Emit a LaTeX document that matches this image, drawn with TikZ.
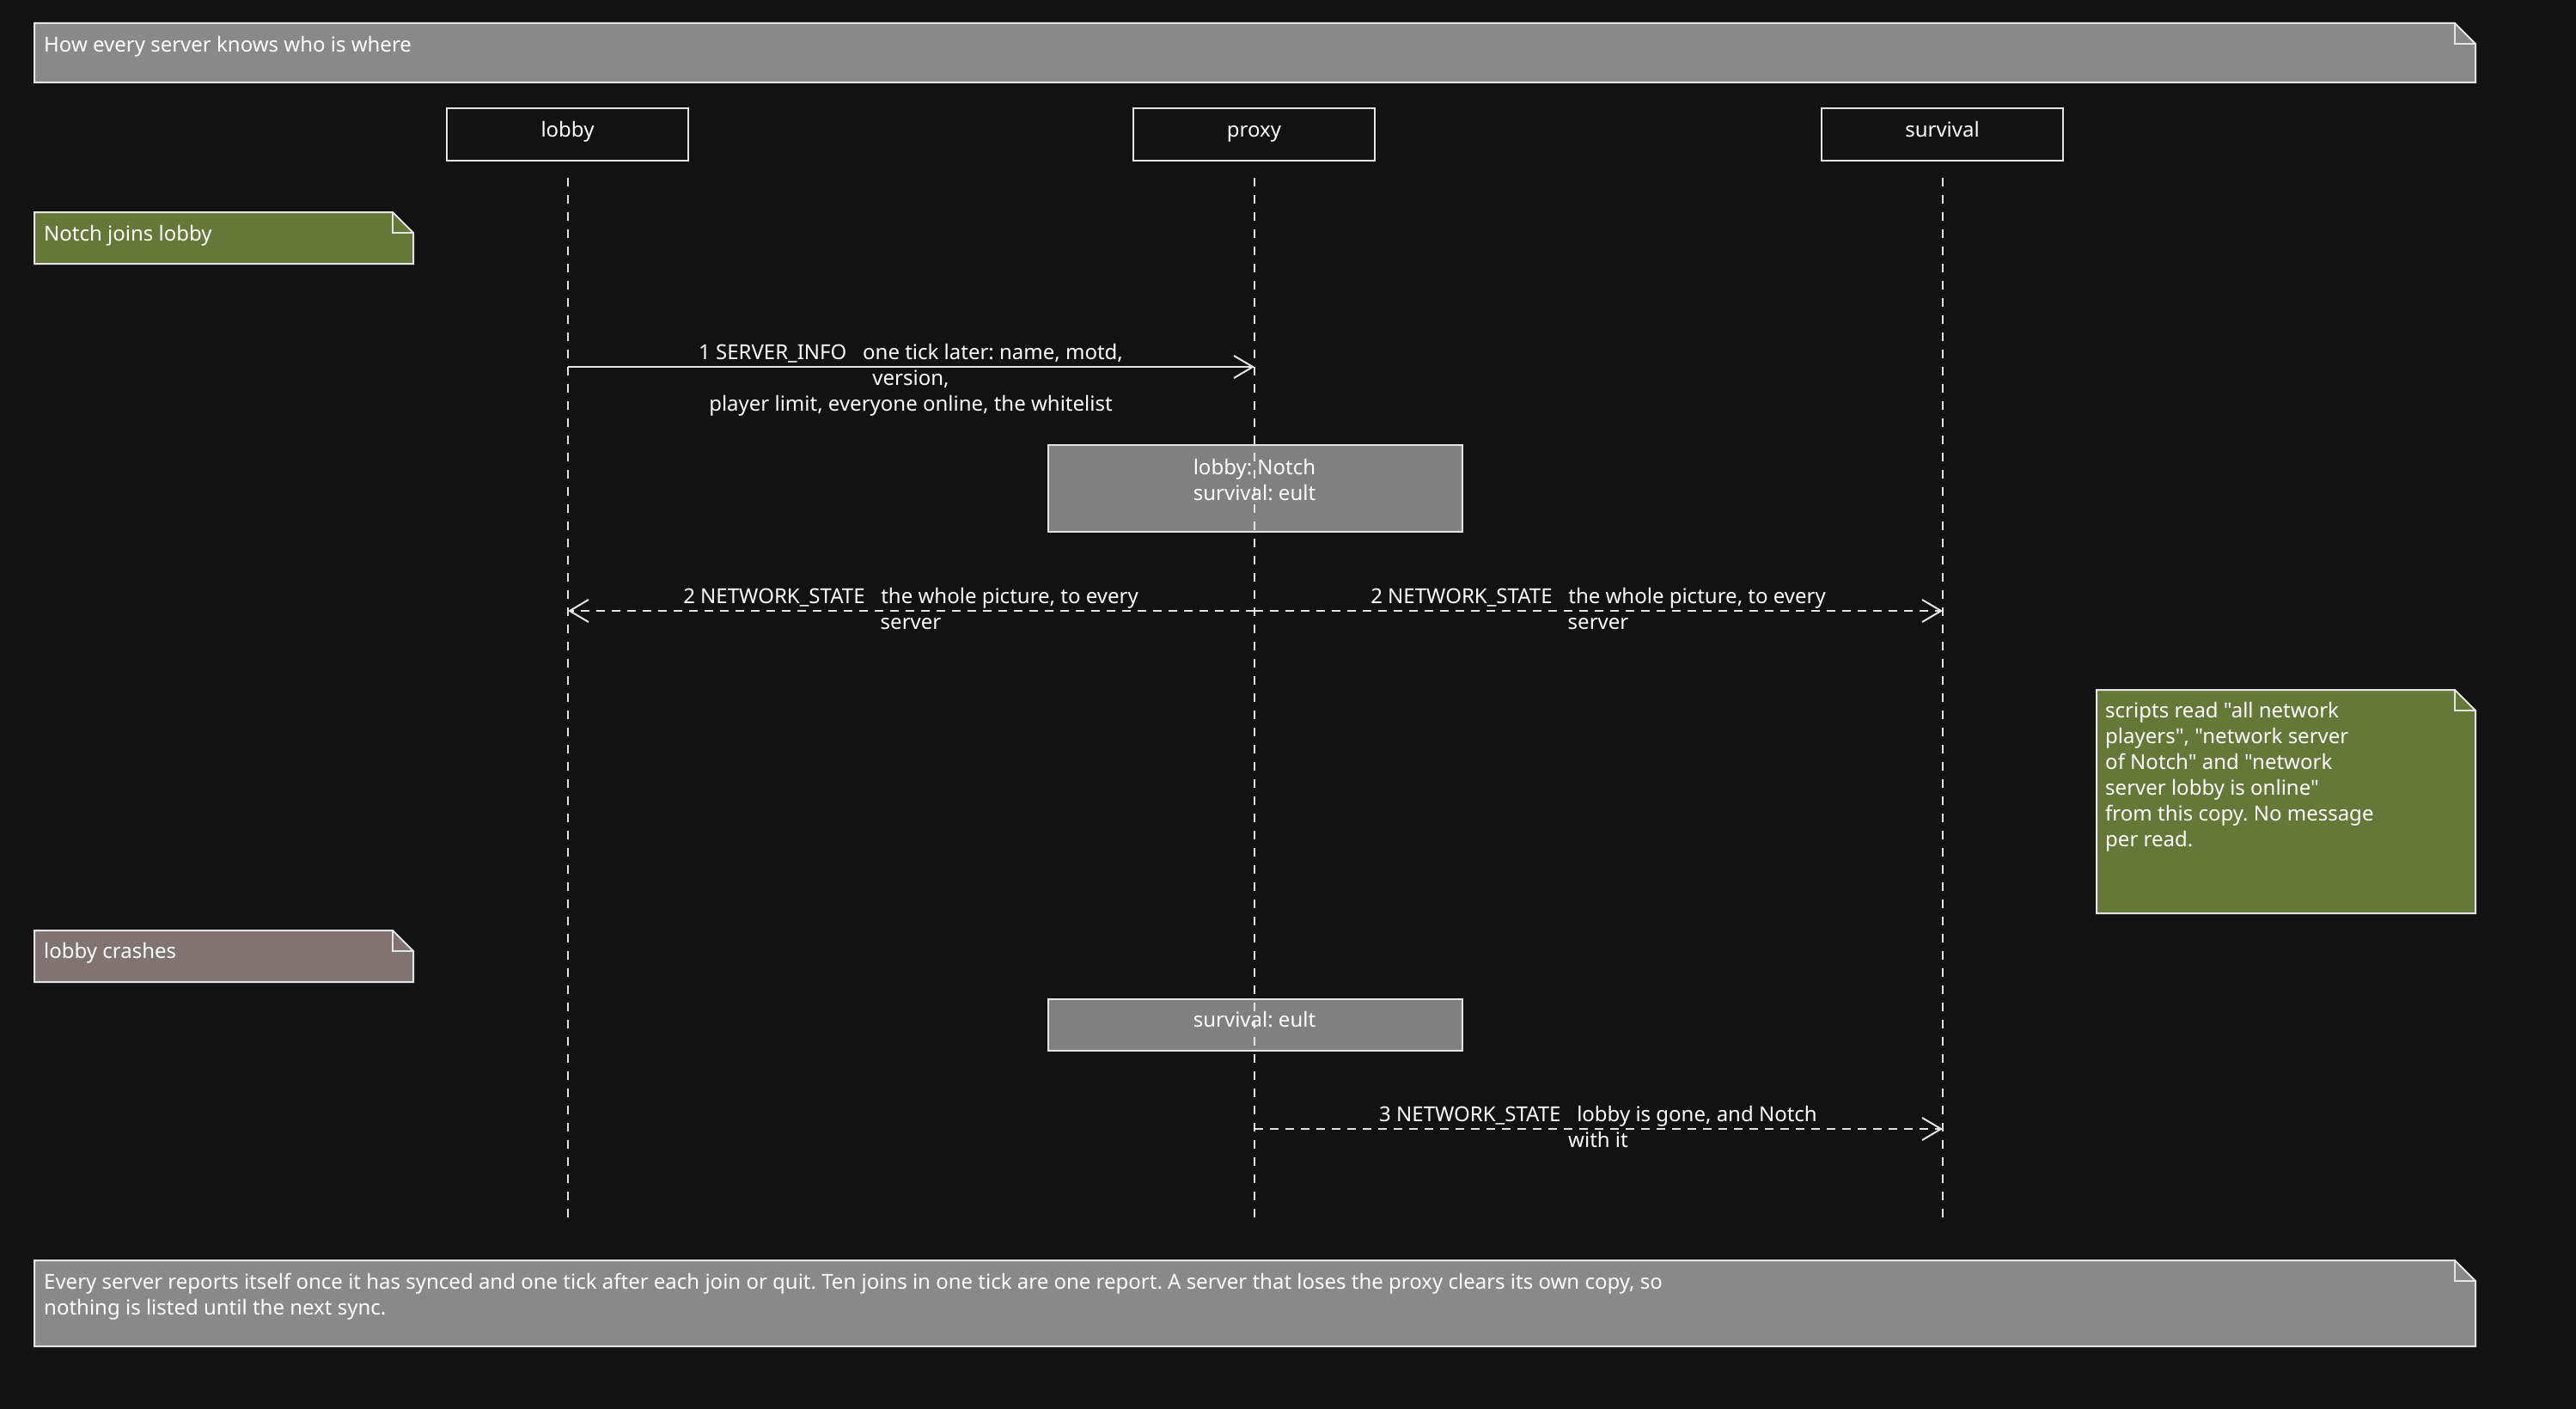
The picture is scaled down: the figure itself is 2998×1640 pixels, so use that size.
\documentclass[tikz,border=0pt]{standalone}
\usepackage{fontspec}
\setmainfont{Noto Sans}
\newfontfamily\nsans{Noto Sans}
\usetikzlibrary{arrows.meta}
\definecolor{bg}{HTML}{121212}
\definecolor{ttl}{HTML}{898989}
\definecolor{stt}{HTML}{808080}
\definecolor{grn}{HTML}{647838}
\definecolor{rse}{HTML}{827373}
\definecolor{edge}{HTML}{E4E4E4}
\newcommand\foldnote[5]{%
  \draw[notebg, fill=#5] (#1,#2) -- ({#3-24},#2) -- (#3,{#2+24}) -- (#3,#4) -- (#1,#4) -- cycle;
  \draw[notebg] ({#3-24},#2) -- ({#3-24},{#2+24}) -- (#3,{#2+24});}
\frenchspacing
\begin{document}
\begin{tikzpicture}[x=1pt,y=-1pt,
  txt/.style={inner sep=0pt, text=white, font=\nsans\fontsize{24}{30}\selectfont},
  ptbox/.style={draw=edge, line width=2pt, fill=bg, minimum width=281pt, minimum height=61pt,
    inner sep=0pt, text=white, font=\nsans\fontsize{24}{30}\selectfont, text height=18pt, text depth=11pt},
  statebox/.style={draw=edge, line width=2pt, fill=stt, inner sep=0pt, minimum width=482pt},
  lifeline/.style={draw=edge, line width=2pt, dash pattern=on 10pt off 10pt},
  msg/.style={draw=edge, line width=2pt, -{Straight Barb[length=22pt,width=26pt,line width=2pt]}},
  rmsg/.style={msg, dash pattern=on 10pt off 8pt},
  notebg/.style={draw=edge, line width=2pt, line join=miter}]
\useasboundingbox (0,0) rectangle (2998,1640);
\fill[bg] (0,0) rectangle (2998,1640);

% title
\foldnote{40}{27}{2881}{96}{ttl}
\node[txt, anchor=north west] (title) at (51,39) {\strut How every server knows who is where};

% participants
\node[ptbox] (lobbyP) at (660.5,156.5) {lobby};
\node[ptbox] (proxyP) at (1459.5,156.5) {proxy};
\node[ptbox] (survivalP) at (2260.5,156.5) {survival};

% notes
\foldnote{40}{247}{481}{307}{grn}
\node[txt, anchor=north west] (n1) at (51,259) {\strut Notch joins lobby};

\foldnote{2440}{803}{2881}{1063}{grn}
\node[txt, anchor=north west, align=left] (n2) at (2450,814) {\strut scripts read "all network\\\strut players", "network server\\\strut of Notch" and "network\\\strut server lobby is online"\\\strut from this copy. No message\\\strut per read.};

\foldnote{40}{1083}{481}{1143}{rse}
\node[txt, anchor=north west] (n3) at (51,1094) {\strut lobby crashes};

\foldnote{40}{1467}{2881}{1567}{ttl}
\node[txt, anchor=north west, align=left] (n4) at (51,1479) {\strut Every server reports itself once it has synced and one tick after each join or quit. Ten joins in one tick are one report. A server that loses the proxy clears its own copy, so\\\strut nothing is listed until the next sync.};

% state boxes
\node[statebox, minimum height=101pt] (st1) at (1461,568.5) {};
\node[statebox, minimum height=60pt] (st2) at (1461,1193) {};

% lifelines
\coordinate (lobbyTop) at (661,207);   \coordinate (lobbyBot) at (661,1419);
\coordinate (proxyTop) at (1460,207);  \coordinate (proxyBot) at (1460,1419);
\coordinate (survTop) at (2261,207);   \coordinate (survBot) at (2261,1419);
\draw[lifeline] (lobbyTop) -- (lobbyBot);
\draw[lifeline] (proxyTop) -- (proxyBot);
\draw[lifeline] (survTop) -- (survBot);

% state texts
\node[txt, anchor=north, align=center] (st1t) at (1460,531) {\strut lobby: Notch\\\strut survival: eult};
\node[txt, anchor=north, align=center] (st2t) at (1460,1174) {\strut survival: eult};

% messages
\coordinate (l1) at (661,427);  \coordinate (p1) at (1460,427);
\draw[msg] (l1) -- (p1);
\node[txt, anchor=north, align=center] (m1) at (1060,397) {\strut 1 SERVER\_INFO\ \ \ one tick later: name, motd,\\\strut version,\\\strut player limit, everyone online, the whitelist};

\coordinate (p2) at (1460,711); \coordinate (l2) at (661,711); \coordinate (s2) at (2261,711);
\draw[rmsg] (p2) -- (l2);
\draw[rmsg] (p2) -- (s2);
\node[txt, anchor=north, align=center] (m2a) at (1060,681) {\strut 2 NETWORK\_STATE\ \ \ the whole picture, to every\\\strut server};
\node[txt, anchor=north, align=center] (m2b) at (1860,681) {\strut 2 NETWORK\_STATE\ \ \ the whole picture, to every\\\strut server};

\coordinate (p3) at (1460,1314); \coordinate (s3) at (2261,1314);
\draw[rmsg] (p3) -- (s3);
\node[txt, anchor=north, align=center] (m3) at (1860,1284) {\strut 3 NETWORK\_STATE\ \ \ lobby is gone, and Notch\\\strut with it};
\end{tikzpicture}
\end{document}
